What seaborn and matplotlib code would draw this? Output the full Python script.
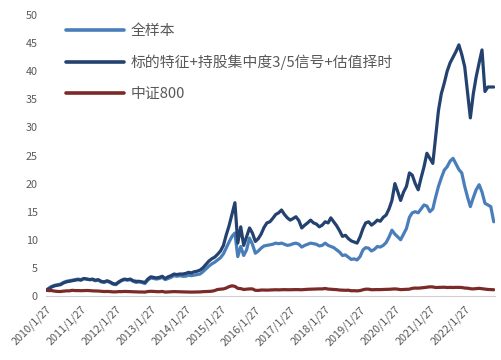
import numpy as np
import pandas as pd
import matplotlib
matplotlib.use("Agg")
import matplotlib.pyplot as plt
import seaborn as sns
from matplotlib.lines import Line2D

# ---- data (monthly) ----
start = "2010-01-27"
labels = ["全样本", "标的特征+持股集中度3/5信号+估值择时", "中证800"]

full_sample = [
    1.0, 1.4, 1.7, 1.9, 2.0, 2.1, 2.4, 2.6, 2.7, 2.8, 2.9, 3.0,
    2.9, 3.1, 3.0, 2.9, 2.9, 2.7, 2.8, 2.5, 2.4, 2.6, 2.4, 2.1,
    2.0, 2.4, 2.7, 2.9, 2.8, 2.9, 2.6, 2.4, 2.5, 2.4, 2.2, 2.8,
    3.2, 3.1, 3.0, 3.1, 3.3, 2.9, 3.1, 3.3, 3.6, 3.5, 3.6, 3.5,
    3.5, 3.7, 3.6, 3.7, 3.8, 3.9, 4.3, 4.8, 5.3, 5.7, 6.0, 6.4,
    6.8, 7.5, 8.5, 9.6, 10.6, 11.2, 7.0, 8.8, 7.2, 8.2, 10.3, 9.2,
    7.6, 8.0, 8.5, 8.9, 9.0, 9.1, 9.2, 9.4, 9.3, 9.4, 9.2, 9.0,
    9.1, 9.3, 9.4, 9.2, 8.7, 9.0, 9.2, 9.4, 9.3, 9.2, 8.9, 9.0,
    9.4, 9.0, 8.8, 8.6, 8.2, 7.8, 7.2, 7.3, 6.9, 6.5, 6.6, 6.4,
    7.0, 8.2, 8.6, 8.5, 8.0, 8.3, 8.8, 8.7, 9.0, 9.5, 10.5, 11.7,
    11.0, 10.5, 10.0, 11.0, 12.0, 14.0, 14.8, 15.0, 14.8, 15.5, 16.2, 16.0,
    15.0, 15.5, 17.5, 19.5, 21.0, 22.4, 23.0, 24.0, 24.5, 23.5, 22.5, 21.9,
    19.5, 17.5, 15.9, 17.5, 18.9, 19.8, 18.5, 16.5, 16.2, 15.9, 13.2,
]

strategy = [
    1.0, 1.3, 1.6, 1.8, 1.9, 2.0, 2.3, 2.5, 2.6, 2.7, 2.8, 2.9,
    2.8, 3.1, 3.0, 2.9, 3.0, 2.8, 2.9, 2.6, 2.5, 2.7, 2.5, 2.2,
    2.1, 2.5, 2.8, 3.0, 2.9, 3.0, 2.7, 2.6, 2.6, 2.5, 2.4, 3.0,
    3.4, 3.3, 3.2, 3.3, 3.5, 3.1, 3.4, 3.6, 3.9, 3.8, 3.9, 3.9,
    4.0, 4.2, 4.1, 4.3, 4.4, 4.6, 5.0, 5.6, 6.2, 6.6, 6.9, 7.4,
    8.0, 9.0, 10.8, 12.5, 14.5, 16.6, 9.4, 12.3, 9.0, 10.5, 12.1, 11.2,
    9.7, 10.2, 11.0, 12.2, 13.0, 13.2, 13.8, 14.5, 14.8, 15.3, 14.5, 13.9,
    13.5, 13.8, 14.1, 13.4, 12.1, 12.6, 13.0, 13.5, 13.0, 12.8, 12.3, 12.6,
    13.2, 13.0, 13.9, 13.2, 12.5, 11.6, 10.6, 10.8, 10.2, 9.8, 9.6, 9.4,
    10.5, 12.0, 13.0, 13.2, 12.6, 13.0, 13.5, 13.3, 14.0, 14.4, 15.5, 17.0,
    20.0, 18.5, 17.0, 18.5, 19.5, 21.9, 21.5, 20.0, 18.9, 21.0, 23.0, 25.4,
    24.5, 23.6, 28.0, 33.0, 36.0, 37.9, 40.0, 41.5, 42.5, 43.5, 44.7, 43.0,
    40.8, 36.0, 31.7, 36.0, 39.0, 41.5, 43.8, 36.4, 37.2, 37.2, 37.2,
]

csi800 = [
    1.0, 0.95, 0.95, 0.85, 0.8, 0.78, 0.85, 0.9, 0.9, 1.0, 0.95, 0.95,
    0.93, 0.95, 0.97, 0.95, 0.9, 0.88, 0.87, 0.82, 0.78, 0.8, 0.77, 0.72,
    0.72, 0.77, 0.76, 0.8, 0.78, 0.75, 0.72, 0.7, 0.7, 0.7, 0.68, 0.78,
    0.82, 0.8, 0.76, 0.75, 0.8, 0.68, 0.7, 0.74, 0.77, 0.76, 0.76, 0.72,
    0.7, 0.69, 0.68, 0.7, 0.7, 0.71, 0.76, 0.78, 0.8, 0.84, 0.95, 1.15,
    1.2, 1.25, 1.4, 1.65, 1.8, 1.7, 1.35, 1.3, 1.15, 1.2, 1.25, 1.25,
    1.0, 0.98, 1.05, 1.05, 1.03, 1.05, 1.07, 1.1, 1.08, 1.1, 1.12, 1.1,
    1.1, 1.12, 1.13, 1.12, 1.1, 1.15, 1.18, 1.2, 1.22, 1.25, 1.25, 1.25,
    1.32, 1.22, 1.18, 1.15, 1.12, 1.05, 1.03, 1.0, 1.02, 0.92, 0.93, 0.9,
    0.95, 1.1, 1.2, 1.2, 1.1, 1.12, 1.13, 1.12, 1.15, 1.17, 1.18, 1.22,
    1.25, 1.2, 1.12, 1.15, 1.17, 1.2, 1.35, 1.4, 1.38, 1.42, 1.48, 1.55,
    1.62, 1.6, 1.5, 1.52, 1.55, 1.55, 1.5, 1.52, 1.5, 1.52, 1.52, 1.5,
    1.4, 1.38, 1.28, 1.25, 1.3, 1.35, 1.28, 1.22, 1.15, 1.12, 1.1,
]

tick_labels = [f"{y}/1/27" for y in range(2010, 2023)]
y_ticks = [0, 5, 10, 15, 20, 25, 30, 35, 40, 45, 50]

# ---- build table ----
n = len(full_sample)
dates = pd.date_range(start, periods=n, freq=pd.DateOffset(months=1))
df = pd.concat([
    pd.DataFrame({"date": dates, "value": full_sample, "series": labels[0]}),
    pd.DataFrame({"date": dates, "value": strategy, "series": labels[1]}),
    pd.DataFrame({"date": dates, "value": csi800, "series": labels[2]}),
])

sns.set_style("white")
plt.rcParams["font.family"] = ["Noto Sans CJK SC", "DejaVu Sans"]

colors = {labels[0]: "#4a7ebb", labels[1]: "#24426f", labels[2]: "#7b2a27"}

fig = plt.figure(figsize=(5.01, 3.6), dpi=100)
ax = fig.add_axes([0.092, 0.178, 0.896, 0.78])
sns.lineplot(data=df, x="date", y="value", hue="series", palette=colors,
             linewidth=2.3, ax=ax, legend=False, hue_order=labels)

ax.set_ylim(0, 50)
ax.set_yticks(y_ticks)
ax.set_xlim(pd.Timestamp("2010-01-27"), pd.Timestamp("2022-12-10"))
tick_pos = [pd.Timestamp(f"{y}-01-27") for y in range(2010, 2023)]
ax.set_xticks(tick_pos)
ax.set_xticklabels(tick_labels, rotation=45, ha="right", rotation_mode="anchor")
ax.set_xlabel("")
ax.set_ylabel("")

for s in ["top", "right", "left"]:
    ax.spines[s].set_visible(False)
ax.spines["bottom"].set_color("#d0d0d0")
ax.tick_params(axis="x", colors="#595959", labelsize=7.8, length=4, color="#d0d0d0", pad=2)
ax.tick_params(axis="y", colors="#595959", labelsize=7.8, length=0, pad=6)

handles = [Line2D([0], [0], color=colors[l], lw=2.6) for l in labels]
leg = ax.legend(handles, labels, loc="upper left", bbox_to_anchor=(0.015, 1.015),
                frameon=False, fontsize=10.7, handlelength=3.9, handletextpad=0.45,
                labelspacing=1.12)
for t in leg.get_texts():
    t.set_color("#595959")

fig.savefig("out.png", dpi=100)
